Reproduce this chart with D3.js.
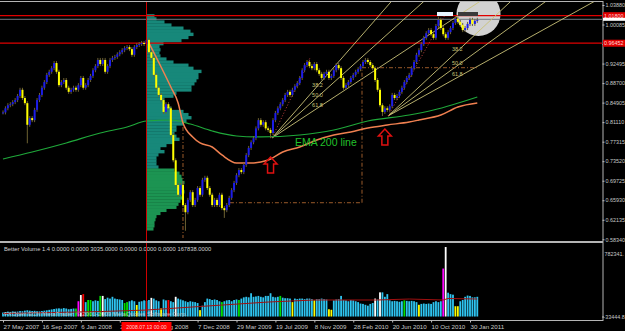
<!DOCTYPE html>
<html>
<head>
<meta charset="utf-8">
<script src="https://cdn.jsdelivr.net/npm/d3@7"></script>
<style>
body { margin: 0; background: #000; }
svg { display: block; }
text { font-family: "Liberation Sans", Arial, sans-serif; }
</style>
</head>
<body>
<svg id="chart" width="625" height="331"></svg>
<script>
"use strict";

// == DATA (AUDUSD weekly) ==
var firstBar = "2007-05-27";
var closes = [
	0.830,0.838,0.844,0.846,0.850,0.854,0.862,0.874,0.858,0.848,
	0.806,0.819,0.815,0.835,0.854,0.864,0.878,0.889,0.903,0.909,
	0.916,0.926,0.909,0.883,0.889,0.893,0.878,0.870,0.874,0.878,
	0.874,0.883,0.897,0.878,0.883,0.893,0.901,0.912,0.920,0.932,
	0.924,0.932,0.909,0.920,0.932,0.936,0.938,0.943,0.947,0.951,
	0.955,0.957,0.953,0.942,0.957,0.961,0.963,0.965,0.963,0.971,
	0.947,0.936,0.903,0.878,0.864,0.854,0.831,0.846,0.838,0.786,
	0.737,0.689,0.670,0.689,0.650,0.636,0.660,0.675,0.650,0.660,
	0.683,0.670,0.699,0.703,0.683,0.670,0.650,0.660,0.650,0.670,
	0.644,0.640,0.650,0.664,0.679,0.693,0.708,0.718,0.714,0.728,
	0.747,0.761,0.772,0.780,0.799,0.815,0.806,0.811,0.799,0.796,
	0.790,0.815,0.829,0.838,0.846,0.854,0.864,0.870,0.864,0.874,
	0.881,0.887,0.897,0.912,0.922,0.928,0.920,0.916,0.924,0.912,
	0.905,0.897,0.905,0.909,0.897,0.901,0.912,0.922,0.916,0.897,
	0.878,0.883,0.889,0.897,0.903,0.909,0.914,0.920,0.928,0.932,
	0.928,0.922,0.916,0.893,0.874,0.844,0.831,0.838,0.835,0.842,
	0.864,0.858,0.862,0.870,0.878,0.889,0.897,0.903,0.916,0.928,
	0.942,0.951,0.963,0.975,0.984,0.990,0.982,0.975,0.998,1.010,
	0.994,0.982,0.975,0.986,0.994,1.004,1.012,1.006,1.000,0.990,
	0.994,1.002,1.010,1.002,1.008,1.010
];
// a few long shadows that stick out
var wickLows = [[10, 0.770], [75, 0.600], [91, 0.625], [110, 0.780], [156, 0.823]];
var wickHighs = [[59, 0.978], [179, 1.016], [186, 1.017]];

// Better Volume histogram (thousands)
var volumes = [
	45,50,55,52,58,55,56,62,60,66,
	70,66,62,64,60,58,62,66,70,75,
	80,85,90,92,88,95,90,82,86,90,
	90,172,242,252,162,186,186,172,182,176,
	232,232,196,212,202,222,202,196,192,186,
	152,162,172,182,172,130,166,172,182,176,
	186,210,202,182,172,92,192,182,186,172,
	162,222,202,192,182,172,162,172,166,162,
	152,72,122,162,202,196,186,192,186,172,
	162,172,182,186,172,186,192,186,202,216,
	222,216,262,222,226,232,222,216,232,232,
	262,222,216,222,232,212,206,206,202,162,
	202,196,202,202,196,202,202,196,182,196,
	196,202,196,192,82,76,182,192,196,232,
	186,182,172,186,182,172,162,146,142,132,
	122,142,152,202,192,272,272,222,252,182,
	172,176,172,166,172,182,176,172,176,172,
	162,132,142,146,142,146,142,162,172,162,
	172,540,782,268,252,246,116,116,172,186,
	222,236,232,216,216,222
];
// bars that are not the normal blue
var volColored = [[30,"g"],[31,"m"],[32,"w"],[33,"r"],[35,"g"],[36,"g"],[40,"g"],[41,"w"],
	[50,"g"],[51,"g"],[55,"y"],[61,"w"],[65,"y"],[68,"r"],[71,"w"],[81,"y"],[90,"g"],
	[97,"g"],[114,"g"],[119,"y"],[128,"y"],[134,"y"],[135,"y"],[153,"w"],[155,"w"],
	[165,"g"],[171,"y"],[181,"m"],[182,"w"],[186,"y"],[187,"y"]];
var volAvg = [[0,34],[20,45],[40,56],[59,73],[81,113],[109,163],[128,186],[154,186],
	[167,197],[181,186],[183,203],[195,197]];

var ema200 = [[0,0.7395],[12,0.7531],[26,0.7706],[40,0.7900],[51,0.8017],[59,0.8133],
	[69,0.8153],[77,0.8075],[86,0.7939],[96,0.7842],[106,0.7823],[122,0.7861],
	[136,0.7958],[150,0.8133],[167,0.8250],[177,0.8347],[195,0.8600]];
var fastMa = [[60,0.9649],[65,0.9183],[69,0.8794],[72,0.8483],[74,0.8095],[78,0.7822],
	[81,0.7706],[86,0.7628],[90,0.7473],[96,0.7317],[102,0.7317],[106,0.7337],
	[109,0.7375],[115,0.7531],[122,0.7628],[129,0.7764],[136,0.7861],[143,0.7920],
	[150,0.7997],[158,0.8056],[167,0.8114],[171,0.8153],[180,0.8250],[187,0.8405],
	[195,0.8483]];

// volume profile from the 2008.07.13 line, top price and step
var profileTop = 1.0210, profileStep = 0.006;
var profile = [8,10,18,25,37,44,47,42,35,17,13,14,13,14,20,27,42,47,55,52,
	52,50,48,45,45,30,27,18,18,17,25,37,42,45,40,37,30,30,28,30,
	33,27,20,14,18,12,10,10,10,12,28,33,35,36,38,36,37,38,35,37,
	34,32,30,20,14,10,9,8,8,7];

// fibonacci fans: origin, trend point, level points (bar index, price)
var fans = [
	{ origin: [110.6, 0.7803], trend: [126.2, 0.9358], levels: [[127.5, 0.8717], [127.5, 0.8522], [127.5, 0.8328]] },
	{ origin: [158.3, 0.8231], trend: [181.7, 1.0194], levels: [[185, 0.9410], [185, 0.9148], [185, 0.8932]] }
];
var fanNames = ["38.2", "50.0", "61.8"];

// dash-dot box lines
var boxLines = [[[74, 0.8017], [74, 0.5859]], [[93.3, 0.6545], [147.6, 0.6545]],
	[[147.6, 0.6545], [147.6, 0.9169]], [[147.6, 0.9169], [195, 0.9169]]];
var arrows = [[110, 0.7434], [157, 0.7978]];

var hLines = [1.01800, 0.96452];
var bidPrice = 1.0110;
var priceTicks = [1.03880, 1.00085, 0.96290, 0.92495, 0.88700, 0.84905, 0.81110,
	0.77315, 0.73520, 0.69725, 0.65930, 0.62135, 0.58340];
var dateTicks = ["2007-05-27","2007-09-16","2008-01-06","2008-04-27","2008-08-17",
	"2008-12-07","2009-03-29","2009-07-19","2009-11-08","2010-02-28","2010-06-20",
	"2010-10-10","2011-01-30"];
// labels partly hidden behind the red date box: only the visible bit is shown
var hiddenDates = { "2008-04-27": ["2", 0], "2008-08-17": ["ug 2008", 7] };
var markBar = 59; // 2008.07.13

// == SETUP ==
var parse = d3.utcParse("%Y-%m-%d");
var iso = d3.utcFormat("%Y-%m-%d");
var t0 = parse(firstBar);
function barDate(i) { return new Date(t0.getTime() + i * 7 * 864e5); }

var x = d3.scaleUtc().domain([t0, parse("2011-01-30")]).range([3, 470]);
var y = d3.scaleLinear().domain([0.58340, 1.03880]).range([239.3, 5]);
var vy = d3.scaleLinear().domain([-33444.8, 782341]).range([319.5, 247]);
var bx = function (i) { return x(barDate(i)); };

var svg = d3.select("#chart");
svg.append("rect").attr("width", 625).attr("height", 331).attr("fill", "#000");

var defs = svg.append("defs");
defs.append("clipPath").attr("id", "mainClip").append("rect")
	.attr("x", 0).attr("y", 2).attr("width", 602).attr("height", 239);
defs.append("clipPath").attr("id", "volClip").append("rect")
	.attr("x", 0).attr("y", 243).attr("width", 602).attr("height", 77);

var main = svg.append("g").attr("clip-path", "url(#mainClip)");

// marked circle top right
main.append("circle").attr("cx", bx(195.5)).attr("cy", y(1.0214)).attr("r", 22).attr("fill", "#d2d2d2");

// volume profile (teal-green above, greener below)
var px0 = bx(markBar);
main.selectAll("rect.prof").data(profile).enter().append("rect")
	.attr("class", "prof")
	.attr("x", px0)
	.attr("y", function (d, k) { return y(profileTop - k * profileStep); })
	.attr("height", function (d, k) { return y(profileTop - (k + 1) * profileStep) - y(profileTop - k * profileStep) + 0.3; })
	.attr("width", function (d) { return d; })
	.attr("fill", function (d, k) { return k < 50 ? "#17887a" : "#1c9452"; });

// horizontal lines
main.selectAll("line.hl").data(hLines).enter().append("line")
	.attr("x1", 0).attr("x2", 602)
	.attr("y1", function (d) { return y(d); }).attr("y2", function (d) { return y(d); })
	.attr("stroke", "#e00000").attr("stroke-width", 1.2);
main.append("line").attr("x1", 0).attr("x2", 602).attr("y1", y(bidPrice)).attr("y2", y(bidPrice))
	.attr("stroke", "#707880").attr("stroke-width", 1);

// fib fans
fans.forEach(function (f) {
	var ox = bx(f.origin[0]), oy = y(f.origin[1]);
	f.levels.forEach(function (p, k) {
		var lx = bx(p[0]), ly = y(p[1]);
		var s = (ly - oy) / (lx - ox);
		main.append("line").attr("x1", ox).attr("y1", oy)
			.attr("x2", 640).attr("y2", oy + s * (640 - ox))
			.attr("stroke", "#c9c278").attr("stroke-width", 0.9);
		main.append("text").attr("x", lx - 1).attr("y", ly - 4)
			.attr("fill", "#c9c278").attr("font-size", 5.5).text(fanNames[k]);
	});
	main.append("line").attr("x1", ox).attr("y1", oy)
		.attr("x2", bx(f.trend[0])).attr("y2", y(f.trend[1]))
		.attr("stroke", "#c04040").attr("stroke-dasharray", "1,2");
});

// dash-dot lines
boxLines.forEach(function (l) {
	main.append("line")
		.attr("x1", bx(l[0][0])).attr("y1", y(l[0][1]))
		.attr("x2", bx(l[1][0])).attr("y2", y(l[1][1]))
		.attr("stroke", "#9a5a2a").attr("stroke-width", 1)
		.attr("stroke-dasharray", "4,2,1,2");
});

// moving averages
var maLine = d3.line().x(function (d) { return bx(d[0]); }).y(function (d) { return y(d[1]); })
	.curve(d3.curveMonotoneX);
main.append("path").attr("d", maLine(ema200)).attr("fill", "none")
	.attr("stroke", "#1fa83a").attr("stroke-width", 1.2);
main.append("path").attr("d", maLine(fastMa)).attr("fill", "none")
	.attr("stroke", "#f08050").attr("stroke-width", 1.5);

// candles
var lowMap = {}, highMap = {};
wickLows.forEach(function (d) { lowMap[d[0]] = d[1]; });
wickHighs.forEach(function (d) { highMap[d[0]] = d[1]; });
var bars = closes.map(function (c, i) {
	var o = i > 0 ? closes[i - 1] : c;
	return { i: i, o: o, c: c, lo: lowMap[i], hi: highMap[i] };
});
var cg = main.append("g");
bars.forEach(function (d) {
	var cx = bx(d.i);
	var top = y(Math.max(d.o, d.c)), bot = y(Math.min(d.o, d.c));
	var wTop = d.hi ? y(d.hi) : top - 2, wBot = d.lo ? y(d.lo) : bot + 2;
	cg.append("line").attr("x1", cx).attr("x2", cx).attr("y1", wTop).attr("y2", wBot)
		.attr("stroke", "#6e6232").attr("stroke-width", 1);
	cg.append("rect").attr("x", cx - 1).attr("width", 2)
		.attr("y", top).attr("height", Math.max(1, bot - top))
		.attr("fill", d.c >= d.o ? "#1c1ce8" : "#ffff00");
});

// top marker boxes
main.append("rect").attr("x", 437).attr("y", 12).attr("width", 16).attr("height", 4).attr("fill", "#e8f4ff");
main.append("rect").attr("x", 458).attr("y", 12).attr("width", 20).attr("height", 4).attr("fill", "#3a3a3a");

// arrows
arrows.forEach(function (a) {
	var cx = bx(a[0]), ty = y(a[1]);
	var p = "M" + cx + "," + ty + " l6.5,7 h-3.5 v9 h-6 v-9 h-3.5 Z";
	main.append("path").attr("d", p).attr("fill", "none").attr("stroke", "#e01010").attr("stroke-width", 1.5);
});

main.append("text").attr("x", bx(120)).attr("y", y(0.7650)).attr("fill", "#22c02a")
	.attr("font-size", 10.5).text("EMA 200 line");

// == VOLUME PANEL ==
var colorOf = { b: "#2ec4f0", y: "#ffff00", g: "#00e000", w: "#ffffff", r: "#ff0000", m: "#ff00ff" };
var volCol = {};
volColored.forEach(function (d) { volCol[d[0]] = d[1]; });
var vg = svg.append("g").attr("clip-path", "url(#volClip)");
vg.selectAll("rect").data(volumes).enter().append("rect")
	.attr("x", function (d, i) { return bx(i) - 0.9; })
	.attr("width", 1.8)
	.attr("y", function (d) { return vy(d * 1000); })
	.attr("height", function (d) { return vy(0) - vy(d * 1000); })
	.attr("fill", function (d, i) { return colorOf[volCol[i] || "b"]; });
vg.append("path").attr("d", d3.line()
		.x(function (d) { return bx(d[0]); }).y(function (d) { return vy(d[1] * 1000); })(volAvg))
	.attr("fill", "none").attr("stroke", "#a01010").attr("stroke-width", 1);
vg.append("text").attr("x", 4).attr("y", 316).attr("fill", "#c8c8c8").attr("font-size", 6)
	.attr("opacity", 0.85).text("FXOpen ECN MetaTrader, \u00a9 2001-2009 MetaQuotes Software Corp.");
svg.append("text").attr("x", 4).attr("y", 251).attr("fill", "#d0d0d0").attr("font-size", 5.8)
	.text("Better Volume 1.4 0.0000 0.0000 3035.0000 0.0000 0.0000 0.0000 167838.0000");

// vertical mark line
svg.append("line").attr("x1", px0).attr("x2", px0).attr("y1", 2).attr("y2", 321)
	.attr("stroke", "#d00000").attr("stroke-width", 1);

// frame
var frame = "#b4b4b4";
svg.append("line").attr("x1", 0).attr("x2", 603).attr("y1", 1.5).attr("y2", 1.5).attr("stroke", frame);
svg.append("line").attr("x1", 0).attr("x2", 603).attr("y1", 242).attr("y2", 242).attr("stroke", frame).attr("stroke-width", 2);
svg.append("line").attr("x1", 0).attr("x2", 603).attr("y1", 320.5).attr("y2", 320.5).attr("stroke", frame);

// price axis
var axisFont = 5.4;
var ay = svg.append("g").attr("transform", "translate(602.5,0)")
	.call(d3.axisRight(y).tickValues(priceTicks).tickSize(2).tickPadding(1).tickFormat(d3.format(".5f")));
ay.select(".domain").attr("stroke", frame).attr("d", "M0.5,1V321");
ay.selectAll("line").attr("stroke", "#c0c0c0");
ay.selectAll("text").attr("fill", "#c8c8c8").attr("font-size", axisFont);

// price labels of the lines
hLines.forEach(function (p) {
	svg.append("rect").attr("x", 603).attr("y", y(p) - 3.5).attr("width", 22).attr("height", 7).attr("fill", "#e00000");
	svg.append("text").attr("x", 604).attr("y", y(p) + 2).attr("fill", "#ffd8d8").attr("font-size", axisFont)
		.text(d3.format(".5f")(p));
});
svg.append("rect").attr("x", 603).attr("y", y(bidPrice) - 1.5).attr("width", 22).attr("height", 3).attr("fill", "#ffffff");

// volume axis labels
svg.append("text").attr("x", 604.5).attr("y", 256).attr("fill", "#c8c8c8").attr("font-size", axisFont).text("782341.");
svg.append("line").attr("x1", 602).attr("x2", 604).attr("y1", 317).attr("y2", 317).attr("stroke", "#c0c0c0");
svg.append("text").attr("x", 603.5).attr("y", 319).attr("fill", "#c8c8c8").attr("font-size", axisFont).text("-33444.8");

// date axis
var dateFmt = d3.utcFormat("%-d %b %Y");
var ax = svg.append("g").attr("transform", "translate(0,320.5)")
	.call(d3.axisBottom(x).tickValues(dateTicks.map(parse)).tickSize(2).tickPadding(2)
		.tickFormat(function (d) {
			var h = hiddenDates[iso(d)];
			return h ? h[0] : dateFmt(d);
		}));
ax.select(".domain").remove();
ax.selectAll("line").attr("stroke", "#c0c0c0");
ax.selectAll("text").attr("fill", "#c8c8c8").attr("font-size", 6.2).attr("text-anchor", "start")
	.attr("x", function (d) { var h = hiddenDates[iso(d)]; return h ? h[1] : 0; });

// mark date box
svg.append("rect").attr("x", px0 - 25).attr("y", 322).attr("width", 50).attr("height", 9).attr("fill", "#ff0000");
svg.append("text").attr("x", px0).attr("y", 329.3).attr("text-anchor", "middle").attr("fill", "#ffd0d0")
	.attr("font-size", 5.2).text("2008.07.13 00:00");
</script>
</body>
</html>
